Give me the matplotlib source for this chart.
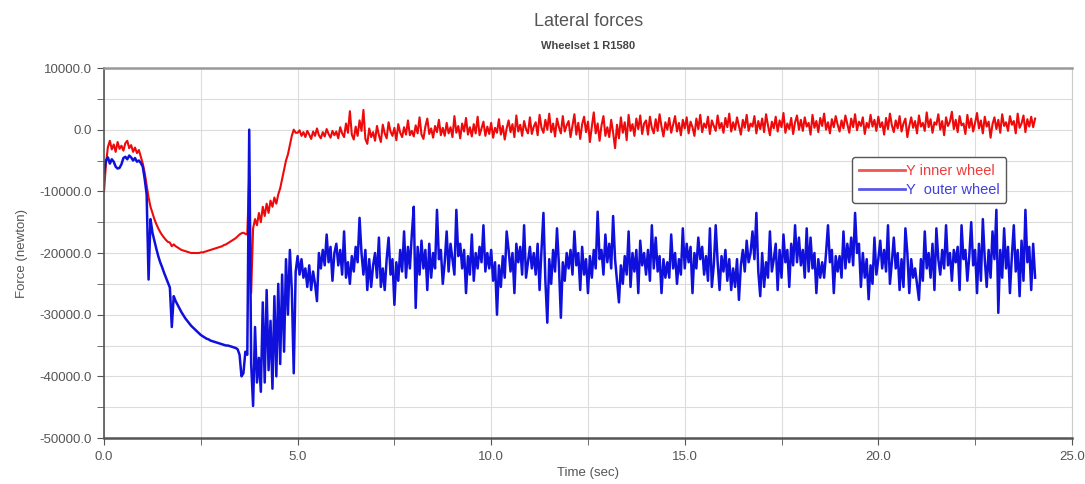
import numpy as np
import matplotlib
matplotlib.use("Agg")
import matplotlib.pyplot as plt
from matplotlib.ticker import MultipleLocator, FormatStrFormatter

# ---------------------------------------------------
# 1. Data (forces in kN, one sample every 0.05 s, one row = 1 s)
# ---------------------------------------------------
dt = 0.05

inner_kN = [
    -10.0, -5.5, -2.8, -1.8, -3.2, -2.4, -3.6, -2.0, -3.1, -2.6, -3.4, -2.2, -1.8, -3.0, -2.5, -3.6, -2.9, -3.8, -3.3, -4.4,
    -5.5, -7.0, -9.0, -11.0, -12.5, -13.5, -14.5, -15.3, -16.0, -16.6, -17.1, -17.5, -17.9, -18.2, -18.3, -18.9, -18.6, -18.9, -19.1, -19.3,
    -19.5, -19.6, -19.7, -19.8, -19.9, -20.0, -20.0, -20.0, -20.0, -20.0, -19.9, -19.9, -19.8, -19.7, -19.6, -19.5, -19.4, -19.3, -19.2, -19.1,
    -19.0, -18.9, -18.7, -18.6, -18.4, -18.2, -18.0, -17.8, -17.6, -17.3, -17.0, -16.8, -16.7, -16.9, -17.0, -7.5, -26.5, -16.0, -14.5, -15.5,
    -13.5, -15.0, -12.5, -14.0, -12.0, -13.5, -11.5, -12.5, -11.0, -12.0, -10.5, -9.5, -8.0, -6.5, -5.0, -4.0, -2.5, -1.0, 0.0, -0.5,
    -0.5, -0.1, -1.0, -0.4, -1.2, -0.2, -0.8, -1.5, -0.3, -1.0, 0.2, -0.9, -1.4, -0.4, -1.1, 0.1, -0.7, -1.3, -0.2, -0.9,
    -0.3, -1.4, 0.4, -0.6, -1.2, 1.0, -0.5, 3.0, -0.8, -1.6, 0.5, -1.0, 1.5, -0.2, 3.2, -1.5, -2.3, 0.2, -1.2, -0.4,
    -1.8, 0.6, -0.9, -2.0, 0.8, -0.6, -1.4, 1.2, -0.3, -1.0, 0.3, -1.7, 0.9, -0.5, -1.2, 0.4, -0.8, 1.5, -0.9, -0.2,
    -1.1, 0.7, -0.6, 2.0, -0.8, -1.5, 0.5, 1.8, -0.7, 0.2, -1.3, 0.6, -0.4, 1.6, -0.9, 0.3, -1.0, 1.1, -0.6, 0.4,
    -1.2, 2.2, -0.5, 0.6, -1.4, 1.0, -0.3, 1.9, -0.8, 0.4, -1.1, 0.9, -0.6, 2.1, -0.9, 0.2, 1.3, -1.0, 0.5, -0.7,
    1.1, -1.3, 0.3, -0.5, 1.7, -0.8, 0.6, -1.6, 0.2, 1.5, -0.4, 0.9, -1.2, 2.3, -0.3, 0.8, -1.0, 1.4, 0.1, -0.6,
    2.0, -0.7, 0.5, 1.2, -0.9, 2.4, 0.3, -0.5, 1.6, 0.0, 2.6, -0.4, 1.0, -1.1, 1.8, 0.4, -0.6, 2.2, -0.3, 0.7,
    1.4, -1.2, 0.6, 2.5, -0.8, 1.1, -1.5, 0.9, 2.1, -0.4, 1.3, -2.0, 0.5, 2.8, -0.6, 1.0, -1.8, 0.7, 2.2, -1.0,
    0.4, -1.2, 1.6, -0.5, -3.0, 0.8, -1.4, 2.0, -0.5, 1.2, -1.7, 2.4, -0.2, 0.9, -1.0, 1.8, 0.1, 2.3, -0.7, 1.0,
    1.5, -0.8, 2.1, 0.3, -0.6, 1.7, -0.2, 2.5, 0.5, -1.1, 1.2, 0.0, 1.9, -0.5, 0.8, 2.2, -0.3, 1.1, -0.9, 1.6,
    0.2, 2.0, -0.6, 1.3, 0.4, -1.0, 1.8, 0.1, 2.4, -0.4, 1.0, 0.3, 2.1, -0.7, 1.5, 0.6, -0.2, 2.3, 0.2, 1.1,
    -0.5, 1.9, 0.4, 2.6, -0.3, 1.2, 0.0, 2.0, 0.6, -0.8, 1.6, 0.3, 2.4, -0.2, 1.0, 0.5, 2.2, -0.6, 1.4, 0.1,
    1.8, -0.4, 2.5, 0.7, -0.9, 1.3, 0.2, 2.1, -0.3, 1.5, 0.4, 2.7, -0.5, 1.0, 0.1, 1.9, -0.7, 1.2, 2.3, 0.0,
    1.6, -0.2, 2.0, 0.5, 1.1, -0.8, 2.4, 0.3, 1.4, -0.4, 1.9, 0.6, 2.6, 0.0, 1.2, -0.6, 1.7, 0.4, 2.2, 0.8,
    -0.3, 1.5, 0.2, 2.3, 0.9, -0.5, 1.8, 0.4, 2.5, -0.1, 1.3, 0.6, 2.0, -0.7, 1.1, 0.3, 2.4, 0.5, 1.6, -0.2,
    2.1, 0.4, 1.2, -0.8, 1.9, 0.1, 2.6, 0.7, -0.4, 1.5, 0.2, 2.2, -0.3, 1.0, 1.8, -1.2, 0.6, 2.0, 0.3, 1.4,
    -0.6, 2.3, 0.5, 1.1, -0.2, 2.8, 0.4, 1.7, -0.5, 1.2, 0.8, 2.5, 0.0, 1.4, -0.9, 2.0, 0.6, 1.3, 2.9, 0.1,
    1.6, -0.4, 2.2, 0.7, 1.0, -0.7, 2.4, 0.3, 1.8, -0.3, 1.1, 2.7, 0.2, 1.5, -0.6, 2.1, 0.5, 1.3, -1.3, 0.9,
    2.0, 0.1, 1.6, -0.5, 2.5, 0.6, 1.2, -0.2, 2.2, 0.8, 1.4, -0.6, 2.6, 0.3, 1.0, 2.3, -0.4, 1.7, 0.5, 2.1,
    0.4, 1.8,
]

outer_kN = [
    -7.0, -5.0, -4.5, -5.5, -4.8, -5.2, -6.0, -6.3, -6.2, -5.6, -4.6, -4.4, -4.8, -4.2, -4.5, -5.0, -4.6, -5.2, -5.0, -5.4,
    -6.0, -8.0, -10.5, -24.3, -14.5, -16.7, -18.0, -19.3, -20.5, -21.5, -22.3, -23.2, -24.0, -24.8, -25.6, -32.0, -27.0, -27.8, -28.4, -29.0,
    -29.6, -30.1, -30.6, -31.0, -31.4, -31.8, -32.1, -32.4, -32.7, -33.0, -33.3, -33.5, -33.7, -33.9, -34.0, -34.2, -34.3, -34.4, -34.5, -34.6,
    -34.7, -34.8, -34.9, -35.0, -35.0, -35.1, -35.2, -35.3, -35.4, -35.6, -36.5, -40.0, -39.5, -36.0, -36.5, 0.0, -38.0, -44.8, -32.0, -41.0,
    -37.0, -42.5, -28.0, -41.0, -26.0, -39.0, -31.0, -42.0, -27.0, -40.0, -25.0, -38.0, -23.5, -36.0, -21.0, -30.0, -19.5, -26.0, -39.5, -23.0,
    -20.5, -23.5, -21.0, -24.0, -22.5, -25.5, -22.0, -26.0, -23.0, -25.0, -27.8, -20.0, -22.5, -19.5, -22.0, -17.0, -21.5, -19.0, -24.5, -20.0,
    -18.5, -22.0, -19.5, -23.5, -16.5, -24.0, -21.5, -25.0, -20.5, -23.0, -19.0, -21.5, -14.3, -20.0, -23.5, -19.5, -26.0, -21.0, -25.5, -22.0,
    -20.0, -24.0, -17.5, -25.5, -22.5, -26.0, -21.0, -17.5, -23.5, -21.0, -28.4, -21.5, -24.5, -19.5, -23.0, -16.5, -24.0, -19.0, -22.5, -17.0,
    -12.5, -28.9, -19.0, -23.5, -18.0, -22.5, -19.5, -26.0, -18.5, -24.0, -20.0, -22.5, -13.0, -21.0, -19.5, -25.0, -21.5, -16.5, -23.0, -18.5,
    -21.0, -23.5, -13.0, -20.5, -18.5, -22.5, -19.5, -26.5, -20.5, -23.5, -17.0, -24.5, -20.0, -22.5, -19.0, -21.5, -15.5, -23.0, -20.0, -22.5,
    -19.5, -24.5, -21.5, -30.0, -22.0, -25.5, -20.5, -24.0, -16.5, -19.5, -23.0, -20.0, -26.5, -18.5, -21.5, -19.0, -23.5, -15.5, -24.0, -21.5,
    -19.0, -22.5, -20.0, -23.5, -18.5, -26.0, -19.5, -13.5, -24.5, -31.3, -21.0, -25.0, -19.5, -23.0, -16.0, -22.0, -30.5, -21.5, -24.5, -20.0,
    -22.5, -19.5, -23.5, -16.5, -22.0, -20.0, -26.0, -19.0, -23.5, -21.0, -26.5, -20.5, -24.0, -19.5, -22.5, -13.3, -21.0, -19.5, -23.5, -17.0,
    -21.5, -18.5, -22.5, -14.0, -21.0, -24.5, -28.0, -22.0, -25.0, -20.5, -23.5, -16.5, -25.5, -20.0, -23.0, -19.5, -26.5, -18.0, -22.0, -20.0,
    -23.5, -19.5, -24.5, -15.5, -22.5, -17.5, -23.0, -20.5, -26.5, -21.0, -24.0, -21.5, -24.0, -17.0, -22.5, -20.0, -25.0, -21.0, -23.5, -16.0,
    -22.5, -18.5, -21.5, -19.0, -26.5, -20.0, -22.5, -17.5, -21.0, -19.0, -23.5, -20.5, -24.5, -16.0, -25.5, -22.0, -15.5, -21.5, -26.0, -20.5,
    -23.0, -19.5, -24.5, -21.0, -26.0, -22.5, -25.5, -21.0, -27.6, -22.0, -19.5, -23.0, -18.0, -21.5, -20.0, -16.5, -21.0, -13.5, -23.0, -27.0,
    -20.0, -25.5, -21.5, -24.0, -16.5, -23.0, -21.0, -18.5, -26.0, -19.5, -24.0, -17.0, -21.5, -19.5, -25.5, -18.5, -22.0, -15.5, -21.5, -17.5,
    -22.0, -19.5, -24.0, -16.0, -23.0, -17.5, -22.5, -20.0, -26.5, -21.0, -24.0, -21.5, -24.0, -20.0, -15.5, -21.5, -19.5, -26.5, -20.5, -23.0,
    -20.5, -24.0, -16.5, -22.5, -18.5, -21.5, -17.5, -22.0, -13.5, -20.0, -18.5, -25.5, -20.0, -24.0, -21.0, -27.5, -22.0, -25.0, -17.5, -23.5,
    -21.0, -18.0, -22.5, -19.5, -23.0, -15.5, -25.0, -21.5, -17.5, -22.5, -20.0, -26.0, -21.0, -25.5, -16.0, -20.0, -26.5, -21.0, -24.0, -22.5,
    -25.0, -27.6, -21.0, -24.5, -16.5, -22.5, -20.0, -24.0, -18.5, -26.0, -16.0, -21.0, -23.5, -19.5, -22.5, -15.5, -22.0, -20.0, -24.5, -19.5,
    -21.5, -19.0, -26.0, -15.5, -21.0, -19.5, -24.5, -20.5, -15.0, -22.0, -19.5, -26.5, -18.5, -24.5, -14.5, -21.0, -25.5, -19.5, -24.0, -16.5,
    -21.0, -13.0, -29.7, -19.5, -24.0, -16.0, -22.5, -19.0, -26.5, -20.5, -15.5, -23.0, -19.5, -27.0, -18.0, -24.5, -13.0, -21.5, -19.0, -26.0,
    -18.5, -24.0,
]

x_ticks = [0.0, 5.0, 10.0, 15.0, 20.0, 25.0]
y_ticks = [10000.0, 0.0, -10000.0, -20000.0, -30000.0, -40000.0, -50000.0]

# kN -> newton
inner = np.array(inner_kN) * 1000
outer = np.array(outer_kN) * 1000
t_inner = np.arange(len(inner)) * dt
t_outer = np.arange(len(outer)) * dt

# ---------------------------------------------------
# 2. Chart
# ---------------------------------------------------
plt.rcParams["font.family"] = ["Liberation Sans", "DejaVu Sans"]

fig = plt.figure(figsize=(10.85, 4.84), dpi=100)
ax = fig.add_axes([0.0959, 0.095, 0.892, 0.7645])

ax.plot(t_inner, inner, color="#ee0a0a", lw=1.5, label="Y inner wheel")
ax.plot(t_outer, outer, color="#1010dd", lw=1.8, label="Y  outer wheel")

ax.set_xlim(x_ticks[0], x_ticks[-1])
ax.set_ylim(y_ticks[-1], y_ticks[0])
ax.set_xticks(x_ticks)
ax.set_yticks(y_ticks)
ax.xaxis.set_minor_locator(MultipleLocator(2.5))
ax.yaxis.set_minor_locator(MultipleLocator(5000))
ax.xaxis.set_major_formatter(FormatStrFormatter("%.1f"))
ax.yaxis.set_major_formatter(FormatStrFormatter("%.1f"))

ax.grid(which="both", color="#dcdcdc", lw=0.8)
ax.set_axisbelow(True)
ax.tick_params(which="both", direction="out", length=5, color="#555555",
               labelsize=9.5, labelcolor="#555555", pad=4)

for side in ["left", "bottom"]:
    ax.spines[side].set_color("#555555")
    ax.spines[side].set_linewidth(1.2)
ax.spines["bottom"].set_linewidth(1.8)
ax.spines["top"].set_color("#999999")
ax.spines["top"].set_linewidth(1.8)
ax.spines["right"].set_color("#cccccc")

ax.set_xlabel("Time (sec)", fontsize=9.5, color="#555555", labelpad=3)
ax.set_ylabel("Force (newton)", fontsize=9.5, color="#555555", labelpad=8)

fig.text(0.542, 0.955, "Lateral forces", ha="center", va="center",
         fontsize=13, color="#555555")
fig.text(0.542, 0.905, "Wheelset 1 R1580", ha="center", va="center",
         fontsize=8, fontweight="bold", color="#444444")

leg = ax.legend(loc="upper left", bbox_to_anchor=(0.773, 0.759), borderaxespad=0,
                fontsize=10.5, handlelength=3.2, handletextpad=0.05, labelspacing=0.35,
                borderpad=0.45, fancybox=True, framealpha=1, edgecolor="#555555")
for txt, line in zip(leg.get_texts(), leg.get_lines()):
    txt.set_color(line.get_color())
    txt.set_alpha(0.8)
    line.set_linewidth(2)
    line.set_alpha(0.7)

plt.savefig("out.png", dpi=100)
